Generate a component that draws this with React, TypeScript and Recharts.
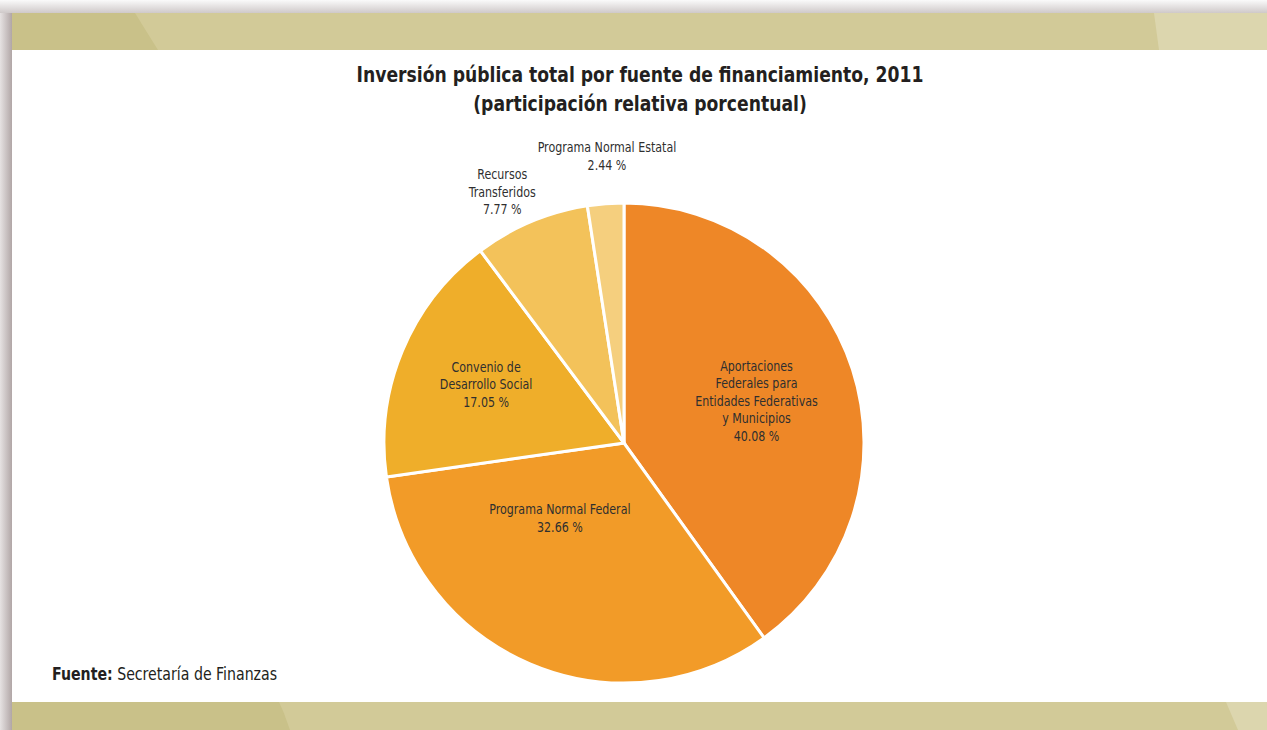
import { PieChart, Pie, Cell } from "recharts";

// Fuentes de financiamiento (sentido horario desde las 12)
const sources = [
  "Aportaciones Federales para Entidades Federativas y Municipios",
  "Programa Normal Federal",
  "Convenio de Desarrollo Social",
  "Recursos Transferidos",
  "Programa Normal Estatal",
];
const shares = [40.08, 32.66, 17.05, 7.77, 2.44];
const labelLines = [
  ["Aportaciones", "Federales para", "Entidades Federativas", "y Municipios"],
  ["Programa Normal Federal"],
  ["Convenio de", "Desarrollo Social"],
  ["Recursos", "Transferidos"],
  ["Programa Normal Estatal"],
];
const colors = ["#EE8727", "#F29B28", "#EFAE2A", "#F3C25A", "#F5CF7E"];

const data = sources.map((name, i) => ({ name, value: shares[i] }));

// ubicación de etiquetas: fracción del radio sobre el ángulo medio + ajuste
const labelPlace = [
  { f: 0.58, dx: 0, dy: 0 },
  { f: 0.32, dx: -34, dy: 4 },
  { f: 0.64, dx: 4, dy: 0 },
  { f: 1.16, dx: -14, dy: 5 },
  { f: 1.2, dx: 5, dy: 0 },
];

const FONT = "'DejaVu Sans Condensed', 'Liberation Sans Narrow', Roboto, sans-serif";
const RAD = Math.PI / 180;

function SliceLabel(props: any) {
  const { cx, cy, midAngle, outerRadius, index, value } = props;
  const p = labelPlace[index];
  const x = cx + outerRadius * p.f * Math.cos(-midAngle * RAD) + p.dx;
  const y = cy + outerRadius * p.f * Math.sin(-midAngle * RAD) + p.dy;
  const lines = [...labelLines[index], `${value.toFixed(2)} %`];
  const lh = 17.5;
  const y0 = -((lines.length - 1) * lh) / 2;
  return (
    <text
      transform={`translate(${x},${y}) scale(0.88,1)`}
      textAnchor="middle"
      dominantBaseline="central"
      fill="#2f2f2f"
      fontSize={14}
      fontFamily={FONT}
    >
      {lines.map((t, k) => (
        <tspan key={k} x={0} y={y0 + k * lh}>
          {t}
        </tspan>
      ))}
    </text>
  );
}

export default function App() {
  return (
    <div style={{ position: "absolute", left: 0, top: 0, width: 1267, height: 730, overflow: "hidden", background: "#f4f2f2", fontFamily: FONT }}>
      {/* sombras del marco */}
      <div style={{ position: "absolute", left: 0, top: 0, width: 14, height: 730, background: "linear-gradient(to right, #e6e2e2, #a89c9c)" }} />
      <div style={{ position: "absolute", left: 0, top: 0, width: 1267, height: 13, background: "linear-gradient(to bottom, #fafafa, #cfc9c9)" }} />
      {/* panel blanco */}
      <div style={{ position: "absolute", left: 12, top: 13, width: 1255, height: 717, background: "#ffffff" }} />
      {/* banda superior */}
      <div style={{ position: "absolute", left: 12, top: 13, width: 1255, height: 37, background: "#D2CA98" }} />
      <div style={{ position: "absolute", left: 12, top: 13, width: 150, height: 37, background: "#C9C189", clipPath: "polygon(0 0, 123px 0, 146px 100%, 0 100%)" }} />
      <div style={{ position: "absolute", left: 1150, top: 13, width: 117, height: 37, background: "#DCD6AE", clipPath: "polygon(4px 0, 100% 0, 100% 100%, 9px 100%)" }} />
      {/* banda inferior */}
      <div style={{ position: "absolute", left: 12, top: 702, width: 1255, height: 28, background: "#D2CA98" }} />
      <div style={{ position: "absolute", left: 12, top: 702, width: 280, height: 28, background: "#C9C189", clipPath: "polygon(0 0, 267px 0, 272px 40%, 278px 100%, 0 100%)" }} />
      <div style={{ position: "absolute", left: 1220, top: 702, width: 47, height: 28, background: "#DCD6AE", clipPath: "polygon(6px 0, 100% 0, 100% 100%, 18px 100%)" }} />

      {/* título */}
      <div
        style={{
          position: "absolute",
          left: 0,
          top: 61,
          width: 1280,
          textAlign: "center",
          fontWeight: 700,
          fontSize: 21,
          lineHeight: "29px",
          color: "#231f20",
          transform: "scaleX(0.91)",
          transformOrigin: "640px 0",
        }}
      >
        Inversión pública total por fuente de financiamiento, 2011
        <br />
        (participación relativa porcentual)
      </div>

      <div style={{ position: "absolute", left: 0, top: 0 }}>
        <PieChart width={1267} height={730} margin={{ top: 0, right: 0, bottom: 0, left: 0 }}>
          <Pie
            data={data}
            dataKey="value"
            nameKey="name"
            cx={624}
            cy={443}
            outerRadius={240}
            startAngle={90}
            endAngle={-270}
            stroke="#ffffff"
            strokeWidth={3}
            label={SliceLabel}
            labelLine={false}
            isAnimationActive={false}
          >
            {data.map((d, i) => (
              <Cell key={d.name} fill={colors[i]} />
            ))}
          </Pie>
        </PieChart>
      </div>

      {/* fuente */}
      <div style={{ position: "absolute", left: 52, top: 664, fontSize: 17, color: "#231f20", transform: "scaleX(0.925)", transformOrigin: "0 0" }}>
        <b>Fuente:</b> Secretaría de Finanzas
      </div>
    </div>
  );
}
